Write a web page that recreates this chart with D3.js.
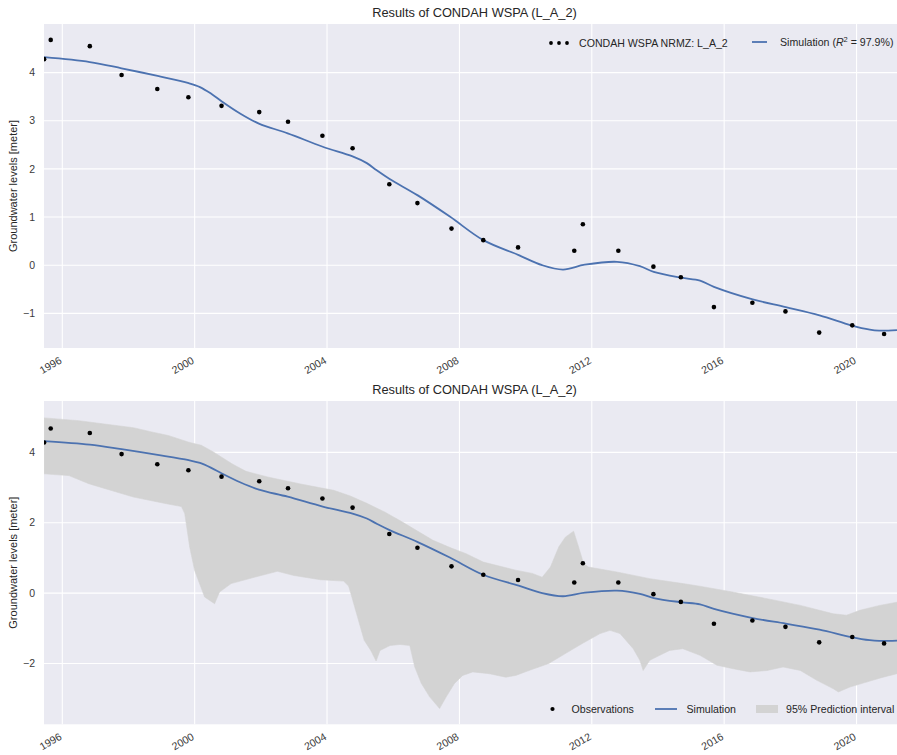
<!DOCTYPE html>
<html>
<head>
<meta charset="utf-8">
<script src="https://cdn.jsdelivr.net/npm/d3@7"></script>
<style>
  html, body { margin: 0; padding: 0; background: #ffffff; }
  svg text { font-family: "Liberation Sans", Arial, "DejaVu Sans", sans-serif; }
</style>
</head>
<body>
<div id="chart"></div>
<script>
// Observed groundwater levels, [decimal year, metre]
const observations = [
  [1995.45, 4.28], [1995.65, 4.68], [1996.83, 4.55], [1997.79, 3.95], [1998.87, 3.66],
  [1999.81, 3.49], [2000.81, 3.31], [2001.95, 3.18], [2002.82, 2.98], [2003.86, 2.69],
  [2004.77, 2.43], [2005.88, 1.68], [2006.73, 1.29], [2007.76, 0.76], [2008.72, 0.52],
  [2009.77, 0.37], [2011.47, 0.30], [2011.73, 0.85], [2012.80, 0.30], [2013.86, -0.03],
  [2014.69, -0.25], [2015.69, -0.87], [2016.85, -0.78], [2017.85, -0.96], [2018.87, -1.40],
  [2019.87, -1.25], [2020.83, -1.43]
];

// Simulated groundwater levels, [decimal year, metre]
const simulation = [
  [1995.45, 4.32], [1996.83, 4.22], [1997.79, 4.09], [1998.88, 3.93], [1999.82, 3.78],
  [2000.16, 3.70], [2000.50, 3.56], [2000.82, 3.40], [2001.37, 3.15], [2001.94, 2.94],
  [2002.81, 2.74], [2003.87, 2.46], [2004.77, 2.26], [2005.20, 2.12], [2005.50, 1.97],
  [2005.89, 1.79], [2006.74, 1.45], [2007.71, 1.01], [2008.72, 0.52], [2009.79, 0.21],
  [2010.50, 0.00], [2011.13, -0.09], [2011.79, 0.01], [2012.76, 0.07], [2013.45, -0.02],
  [2013.87, -0.14], [2014.70, -0.26], [2015.27, -0.32], [2015.69, -0.45], [2016.86, -0.71],
  [2017.86, -0.87], [2018.88, -1.04], [2019.84, -1.25], [2020.40, -1.34], [2020.68, -1.36],
  [2021.22, -1.35]
];

// Upper edge of the 95% prediction interval, [decimal year, metre]
const bandUpper = [
  [1995.45, 4.98], [1996.50, 4.90], [1997.15, 4.82], [1998.15, 4.70], [1998.70, 4.58],
  [1999.20, 4.48], [1999.85, 4.28], [2000.20, 4.20], [2000.55, 4.02], [2001.15, 3.66],
  [2001.55, 3.46], [2002.20, 3.30], [2003.20, 3.10], [2004.20, 2.92], [2004.70, 2.76],
  [2005.20, 2.55], [2005.75, 2.30], [2006.20, 2.06], [2007.20, 1.50], [2007.70, 1.30],
  [2008.20, 1.12], [2008.72, 0.88], [2009.70, 0.65], [2010.20, 0.56], [2010.50, 0.45],
  [2010.75, 0.74], [2011.00, 1.31], [2011.20, 1.59], [2011.45, 1.76], [2011.60, 1.31],
  [2011.75, 0.84], [2011.90, 0.74], [2012.75, 0.60], [2013.75, 0.41], [2014.75, 0.27],
  [2015.30, 0.19], [2016.25, 0.03], [2017.30, -0.16], [2018.30, -0.35], [2019.30, -0.59],
  [2019.70, -0.63], [2020.10, -0.49], [2020.70, -0.35], [2021.22, -0.26]
];

// Lower edge of the 95% prediction interval, [decimal year, metre]
const bandLower = [
  [1995.45, 3.39], [1996.20, 3.34], [1996.80, 3.11], [1997.15, 3.01], [1998.15, 2.73],
  [1999.15, 2.54], [1999.60, 2.46], [1999.70, 2.26], [1999.85, 1.31], [2000.00, 0.64],
  [2000.30, -0.11], [2000.60, -0.30], [2000.75, 0.03], [2001.10, 0.27], [2001.80, 0.45],
  [2002.50, 0.62], [2003.00, 0.50], [2003.80, 0.38], [2004.50, 0.34], [2004.65, 0.20],
  [2004.72, -0.02], [2004.92, -0.68], [2005.12, -1.34], [2005.32, -1.63], [2005.48, -1.93],
  [2005.60, -1.63], [2005.90, -1.49], [2006.20, -1.46], [2006.50, -1.49], [2006.65, -2.10],
  [2006.85, -2.57], [2007.10, -2.95], [2007.40, -3.28], [2007.60, -2.95], [2007.85, -2.57],
  [2008.10, -2.34], [2008.40, -2.24], [2008.90, -2.29], [2009.40, -2.39], [2009.70, -2.34],
  [2010.10, -2.20], [2010.40, -2.10], [2010.70, -2.00], [2011.20, -1.72], [2011.70, -1.44],
  [2012.25, -1.15], [2012.55, -1.06], [2012.85, -1.15], [2013.25, -1.58], [2013.45, -1.91],
  [2013.55, -2.20], [2013.75, -1.91], [2014.05, -1.77], [2014.35, -1.63], [2014.75, -1.58],
  [2015.27, -1.77], [2015.78, -2.05], [2016.27, -2.15], [2016.78, -2.24], [2017.30, -2.20],
  [2017.78, -2.10], [2018.30, -2.20], [2018.80, -2.48], [2019.30, -2.72], [2019.45, -2.81],
  [2019.80, -2.67], [2020.30, -2.53], [2020.80, -2.39], [2021.22, -2.29]
];

const xTickYears = [1996, 2000, 2004, 2008, 2012, 2016, 2020];
const topYTicks = [-1, 0, 1, 2, 3, 4];
const bottomYTicks = [-2, 0, 2, 4];
const timeRange = [1995.447, 2021.22];

const titleText = "Results of CONDAH WSPA (L_A_2)";
const yLabelText = "Groundwater levels [meter]";

// decimal year -> UTC Date
function toDate(y) {
  const yr = Math.floor(y);
  const a = Date.UTC(yr, 0, 1), b = Date.UTC(yr + 1, 0, 1);
  return new Date(a + (y - yr) * (b - a));
}

const W = 897, H = 755;
const svg = d3.select("#chart").append("svg")
  .attr("width", W).attr("height", H)
  .attr("viewBox", `0 0 ${W} ${H}`);

const BG = "#EAEAF2", LINE = "#4C72B0", BAND = "#D3D3D3", TXT = "#262626", TICK = "#3a3a3a";
const LEGEND_FS = 10.6;

const x = d3.scaleUtc()
  .domain(timeRange.map(toDate))
  .range([44, 897]);

function drawPanel(cfg) {
  const { top, bottom, yDomain, yTicks, id } = cfg;
  const y = d3.scaleLinear().domain(yDomain).range([bottom, top]);
  const g = svg.append("g");

  g.append("rect")
    .attr("x", x.range()[0]).attr("y", top)
    .attr("width", x.range()[1] - x.range()[0]).attr("height", bottom - top)
    .attr("fill", BG);

  svg.append("clipPath").attr("id", id)
    .append("rect")
    .attr("x", x.range()[0]).attr("y", top)
    .attr("width", x.range()[1] - x.range()[0]).attr("height", bottom - top);

  // grid lines
  const grid = g.append("g").attr("stroke", "#ffffff").attr("stroke-width", 1.1);
  grid.selectAll("line.v").data(xTickYears).join("line")
    .attr("x1", d => x(toDate(d))).attr("x2", d => x(toDate(d)))
    .attr("y1", top).attr("y2", bottom);
  grid.selectAll("line.h").data(yTicks).join("line")
    .attr("x1", x.range()[0]).attr("x2", x.range()[1])
    .attr("y1", d => y(d)).attr("y2", d => y(d));

  const plot = g.append("g").attr("clip-path", `url(#${id})`);

  if (cfg.band) {
    const outline = bandUpper.concat(bandLower.slice().reverse());
    plot.append("path")
      .attr("d", d3.line().x(d => x(toDate(d[0]))).y(d => y(d[1]))(outline) + "Z")
      .attr("fill", BAND).attr("stroke", BAND).attr("stroke-width", 0.6);
  }

  plot.append("path")
    .attr("d", d3.line()
      .x(d => x(toDate(d[0]))).y(d => y(d[1]))
      .curve(d3.curveCatmullRom.alpha(0.5))(simulation))
    .attr("fill", "none").attr("stroke", LINE).attr("stroke-width", 1.8);

  plot.selectAll("circle.obs").data(observations).join("circle")
    .attr("cx", d => x(toDate(d[0]))).attr("cy", d => y(d[1]))
    .attr("r", 2.3).attr("fill", "#000");

  // y tick labels
  g.selectAll("text.yt").data(yTicks).join("text")
    .attr("x", 35).attr("y", d => y(d)).attr("dy", "0.35em")
    .attr("text-anchor", "end").attr("font-size", 10.5).attr("fill", TICK)
    .text(d => d3.format("d")(d).replace("-", "\u2212"));

  // x tick labels, rotated
  g.selectAll("text.xt").data(xTickYears).join("text")
    .attr("transform", d => `translate(${x(toDate(d)) - 3},${bottom + 9}) rotate(-30)`)
    .attr("text-anchor", "end").attr("dy", "0.6em")
    .attr("font-size", 10.5).attr("fill", TICK)
    .text(d => d3.utcFormat("%Y")(toDate(d)));

  // title
  g.append("text")
    .attr("x", 474.5).attr("y", top - 7)
    .attr("text-anchor", "middle").attr("font-size", 12.8).attr("fill", TXT)
    .text(titleText);

  // y axis label
  g.append("text")
    .attr("transform", `translate(17,${(top + bottom) / 2}) rotate(-90)`)
    .attr("text-anchor", "middle").attr("font-size", 11).attr("fill", TXT)
    .text(yLabelText);

  return { g, y };
}

const p1 = drawPanel({ top: 24, bottom: 348, yDomain: [-1.72, 5.01], yTicks: topYTicks, id: "clipTop", band: false });
const p2 = drawPanel({ top: 401, bottom: 724.3, yDomain: [-3.73, 5.46], yTicks: bottomYTicks, id: "clipBottom", band: true });

// legend of the upper panel
{
  const lg = p1.g.append("g");
  const ly = 43;
  [551, 559, 567].forEach(cx => lg.append("circle").attr("cx", cx).attr("cy", ly).attr("r", 1.9).attr("fill", "#000"));
  lg.append("text").attr("x", 579).attr("y", ly).attr("dy", "0.35em")
    .attr("font-size", LEGEND_FS).attr("fill", TXT).text("CONDAH WSPA NRMZ: L_A_2");
  lg.append("line").attr("x1", 752).attr("x2", 767).attr("y1", ly - 1).attr("y2", ly - 1)
    .attr("stroke", LINE).attr("stroke-width", 1.8);
  const t = lg.append("text").attr("x", 780).attr("y", ly).attr("dy", "0.3em")
    .attr("font-size", LEGEND_FS).attr("fill", TXT);
  t.append("tspan").text("Simulation (");
  t.append("tspan").attr("font-style", "italic").text("R");
  t.append("tspan").attr("font-size", 7.5).attr("dy", "-0.6em").text("2");
  t.append("tspan").attr("dy", "0.42em").text(" = 97.9%)");
}

// legend of the lower panel
{
  const lg = p2.g.append("g");
  const ly = 709;
  lg.append("circle").attr("cx", 552.5).attr("cy", ly).attr("r", 2.1).attr("fill", "#000");
  lg.append("text").attr("x", 571.5).attr("y", ly).attr("dy", "0.35em")
    .attr("font-size", LEGEND_FS).attr("fill", TXT).text("Observations");
  lg.append("line").attr("x1", 655).attr("x2", 677).attr("y1", ly).attr("y2", ly)
    .attr("stroke", LINE).attr("stroke-width", 1.8);
  lg.append("text").attr("x", 686.5).attr("y", ly).attr("dy", "0.35em")
    .attr("font-size", LEGEND_FS).attr("fill", TXT).text("Simulation");
  lg.append("rect").attr("x", 756).attr("y", ly - 4).attr("width", 22).attr("height", 8)
    .attr("fill", BAND);
  lg.append("text").attr("x", 786).attr("y", ly).attr("dy", "0.35em")
    .attr("font-size", LEGEND_FS).attr("fill", TXT).text("95% Prediction interval");
}
</script>
</body>
</html>
